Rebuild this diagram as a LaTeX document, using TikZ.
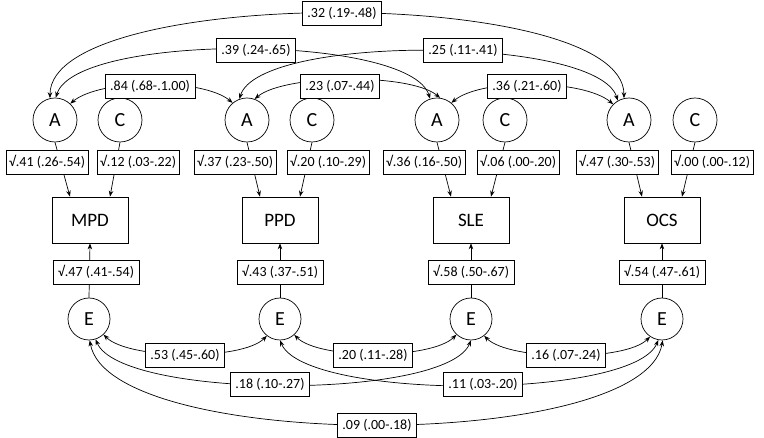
\documentclass[tikz,border=0pt]{standalone}
\usepackage{fontspec}
\setmainfont{Carlito}
\usetikzlibrary{arrows.meta}
\begin{document}
\begin{tikzpicture}[x=1pt,y=-1pt,
  lat/.style={draw,circle,minimum size=44pt,inner sep=0pt,font=\fontsize{20}{20}\selectfont,line width=0.7pt},
  obs/.style={draw,rectangle,minimum width=76pt,minimum height=46pt,font=\fontsize{19}{19}\selectfont,line width=0.7pt},
  lab/.style={draw,fill=white,rectangle,inner xsep=5pt,minimum height=24pt,font=\fontsize{14}{14}\selectfont,line width=0.5pt},
  arr/.style={-{Stealth[length=6pt,width=4.5pt]},line width=0.7pt},
  dbl/.style={{Stealth[length=6pt,width=4.5pt]}-{Stealth[length=6pt,width=4.5pt]},line width=0.7pt}]
\useasboundingbox (0,0) rectangle (764,438);
% observed
\node[obs] (B1) at (90,220) {MPD};
\node[obs] (B2) at (280,220) {PPD};
\node[obs] (B3) at (471,220) {SLE};
\node[obs] (B4) at (662,220) {OCS};
% latent
\foreach \i/\x in {1/55,2/247,3/437,4/629}{\node[lat] (A\i) at (\x,120) {A};}
\foreach \i/\x in {1/120,2/312,3/505,4/695}{\node[lat] (C\i) at (\x,120) {C};}
\foreach \i/\x in {1/89,2/280,3/471,4/662}{\node[lat,minimum size=42pt] (E\i) at (\x,319) {E};}
% paths
\foreach \i in {1,2,3,4}{
  \draw[arr] (A\i.south) -- ([xshift=-20pt]B\i.north);
  \draw[arr] (C\i.south) -- ([xshift=20pt]B\i.north);
  \draw[arr] (E\i.north) -- (B\i.south);
}
% top covariances
\draw[dbl] (A1.103) .. controls +(0,-113) and +(0,-113) .. (A4.103);
\draw[dbl] (A1.88) .. controls +(20,-65) and +(-20,-65) .. (A3.108);
\draw[dbl] (A2.110) .. controls +(20,-65) and +(-20,-65) .. (A4.120);
\draw[dbl] (A1.47) .. controls +(30,-25) and +(-30,-25) .. (A2.130);
\draw[dbl] (A2.70) .. controls +(30,-25) and +(-30,-25) .. (A3.82);
\draw[dbl] (A3.50) .. controls +(30,-25) and +(-30,-25) .. (A4.135);
% bottom covariances
\draw[dbl] (E1.-47) .. controls +(25,25) and +(-25,25) .. (E2.-128);
\draw[dbl] (E2.-48) .. controls +(25,25) and +(-25,25) .. (E3.-133);
\draw[dbl] (E3.-52) .. controls +(25,25) and +(-25,25) .. (E4.-124);
\draw[dbl] (E1.-72) .. controls +(25,60) and +(-25,60) .. (E3.-90);
\draw[dbl] (E2.-90) .. controls +(25,60) and +(-25,60) .. (E4.-100);
\draw[dbl] (E1.-88) .. controls +(20,112) and +(-20,112) .. (E4.-88);
% labels
\node[lab] (l32) at (342,13) {.32 (.19-.48)};
\node[lab] (l39) at (256,50) {.39 (.24-.65)};
\node[lab] (l25) at (463,50) {.25 (.11-.41)};
\node[lab] (l84) at (150,86) {.84 (.68-.1.00)};
\node[lab] (l23) at (340,86) {.23 (.07-.44)};
\node[lab] (l36) at (527,86) {.36 (.21-.60)};
\node[lab,inner xsep=3pt] (p1) at (47,162) {√.41 (.26-.54)};
\node[lab,inner xsep=3pt] (p2) at (138,162) {√.12 (.03-.22)};
\node[lab,inner xsep=3pt] (p3) at (235,162) {√.37 (.23-.50)};
\node[lab,inner xsep=3pt] (p4) at (328,162) {√.20 (.10-.29)};
\node[lab,inner xsep=3pt] (p5) at (424,162) {√.36 (.16-.50)};
\node[lab,inner xsep=3pt] (p6) at (518,162) {√.06 (.00-.20)};
\node[lab,inner xsep=3pt] (p7) at (617,162) {√.47 (.30-.53)};
\node[lab,inner xsep=3pt] (p8) at (712,162) {√.00 (.00-.12)};
\node[lab] (e1) at (96,272) {√.47 (.41-.54)};
\node[lab] (e2) at (280,272) {√.43 (.37-.51)};
\node[lab] (e3) at (471,272) {√.58 (.50-.67)};
\node[lab] (e4) at (662,272) {√.54 (.47-.61)};
\node[lab] (l53) at (185,355) {.53 (.45-.60)};
\node[lab] (l20) at (373,355) {.20 (.11-.28)};
\node[lab] (l16) at (566,355) {.16 (.07-.24)};
\node[lab] (l18) at (270,384) {.18 (.10-.27)};
\node[lab] (l11) at (483,384) {.11 (.03-.20)};
\node[lab] (l09) at (377,425) {.09 (.00-.18)};
\end{tikzpicture}
\end{document}
